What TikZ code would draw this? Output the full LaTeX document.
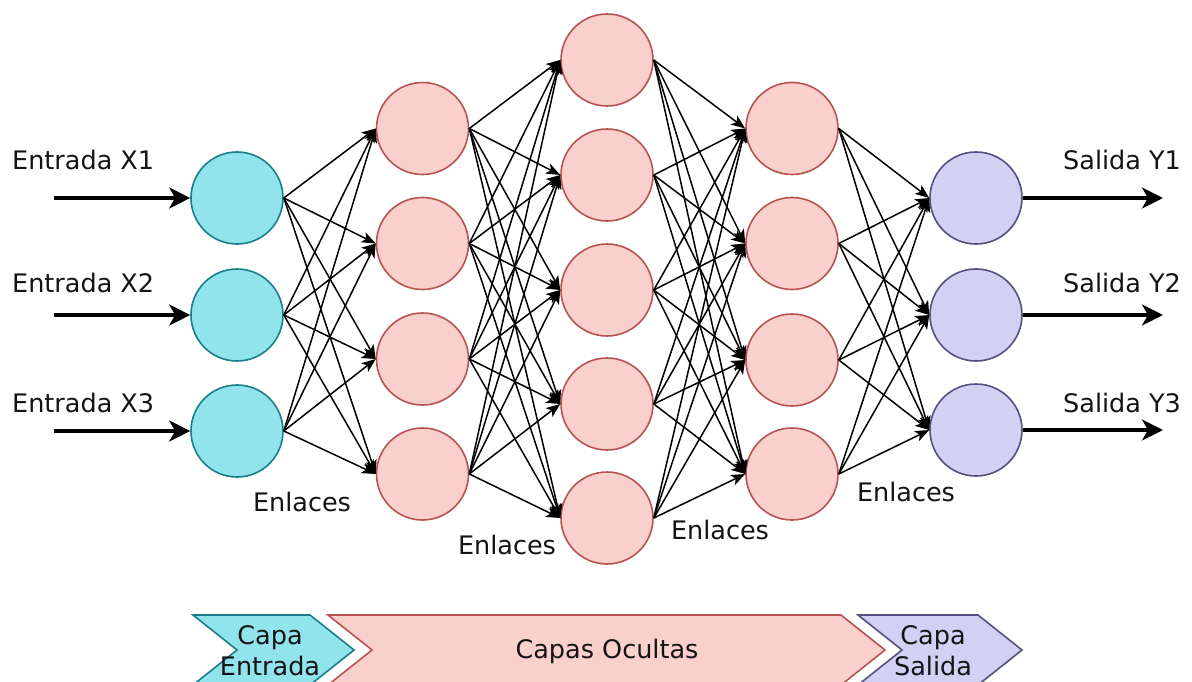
\documentclass[tikz,border=0pt]{standalone}
\usepackage{fontspec}
\setmainfont{DejaVu Sans}
\usetikzlibrary{arrows.meta}

\definecolor{inFill}{RGB}{145,228,236}
\definecolor{inLine}{RGB}{24,128,138}
\definecolor{hidFill}{RGB}{250,208,204}
\definecolor{hidLine}{RGB}{184,84,80}
\definecolor{outFill}{RGB}{210,208,243}
\definecolor{outLine}{RGB}{86,81,126}
\definecolor{ink}{RGB}{20,20,20}

\begin{document}
\begin{tikzpicture}[x=1pt,y=-1pt,
  neuron/.style={circle, minimum size=92pt, inner sep=0pt, line width=1.6pt},
  inneuron/.style={neuron, draw=inLine, fill=inFill},
  hidneuron/.style={neuron, draw=hidLine, fill=hidFill},
  outneuron/.style={neuron, draw=outLine, fill=outFill},
  link/.style={line width=1.5pt, draw=black, -{Stealth[length=14pt,width=11pt,inset=3.5pt]}},
  io/.style={line width=3.4pt, draw=black, -{Stealth[length=21pt,width=21pt,inset=6pt]}},
  lbl/.style={font=\fontsize{25.5}{31}\selectfont, text=ink, inner sep=0pt},
  band/.style={line width=1.6pt},
]
\useasboundingbox (0,0) rectangle (1192,682);
\clip (0,0) rectangle (1192,682);
\fill[white] (0,0) rectangle (1192,682);

% neurons
\foreach \i/\y in {1/198,2/315,3/431}
  \node[inneuron] (in\i) at (237,\y) {};
\foreach \i/\y in {1/128.5,2/243.5,3/359,4/474}
  \node[hidneuron] (ha\i) at (422.5,\y) {};
\foreach \i/\y in {1/60,2/175,3/290,4/404,5/518}
  \node[hidneuron] (hb\i) at (607,\y) {};
\foreach \i/\y in {1/128.5,2/243.5,3/360,4/474}
  \node[hidneuron] (hc\i) at (792,\y) {};
\foreach \i/\y in {1/198,2/315,3/430}
  \node[outneuron] (out\i) at (976,\y) {};

% weighted links between consecutive layers
\foreach \s in {1,2,3}
  \foreach \t in {1,...,4}
    \draw[link] (in\s.east) -- (ha\t.west);
\foreach \s in {1,...,4}
  \foreach \t in {1,...,5}
    \draw[link] (ha\s.east) -- (hb\t.west);
\foreach \s in {1,...,5}
  \foreach \t in {1,...,4}
    \draw[link] (hb\s.east) -- (hc\t.west);
\foreach \s in {1,...,4}
  \foreach \t in {1,2,3}
    \draw[link] (hc\s.east) -- (out\t.west);

% inputs and outputs
\foreach \i/\y in {1/198,2/315,3/431}{
  \coordinate (src\i) at (54,\y);
  \draw[io] (src\i) -- (in\i.west);
}
\foreach \i/\y in {1/198,2/315,3/430}{
  \coordinate (dst\i) at (1163,\y);
  \draw[io] (out\i.east) -- (dst\i);
}

\node[lbl, anchor=west] (lx1) at (12,160) {Entrada X1};
\node[lbl, anchor=west] (lx2) at (12,283) {Entrada X2};
\node[lbl, anchor=west] (lx3) at (12,403) {Entrada X3};
\node[lbl, anchor=west] (ly1) at (1063,160) {Salida Y1};
\node[lbl, anchor=west] (ly2) at (1063,283) {Salida Y2};
\node[lbl, anchor=west] (ly3) at (1063,403) {Salida Y3};

\node[lbl] (e1) at (302,502) {Enlaces};
\node[lbl] (e2) at (507,545) {Enlaces};
\node[lbl] (e3) at (720,530) {Enlaces};
\node[lbl] (e4) at (906,492) {Enlaces};

% layer bands
\filldraw[band, draw=inLine, fill=inFill]
  (193,615) -- (310,615) -- (354,650) -- (310,685) -- (193,685) -- (237,650) -- cycle;
\filldraw[band, draw=hidLine, fill=hidFill]
  (328,615) -- (841,615) -- (885,650) -- (841,685) -- (328,685) -- (372,650) -- cycle;
\filldraw[band, draw=outLine, fill=outFill]
  (858,615) -- (978,615) -- (1022,650) -- (978,685) -- (858,685) -- (902,650) -- cycle;

\node[lbl, align=center] (bIn) at (270,651) {Capa\\Entrada};
\node[lbl] (bHid) at (607,651) {Capas Ocultas};
\node[lbl, align=center] (bOut) at (933,651) {Capa\\Salida};
\end{tikzpicture}
\end{document}
